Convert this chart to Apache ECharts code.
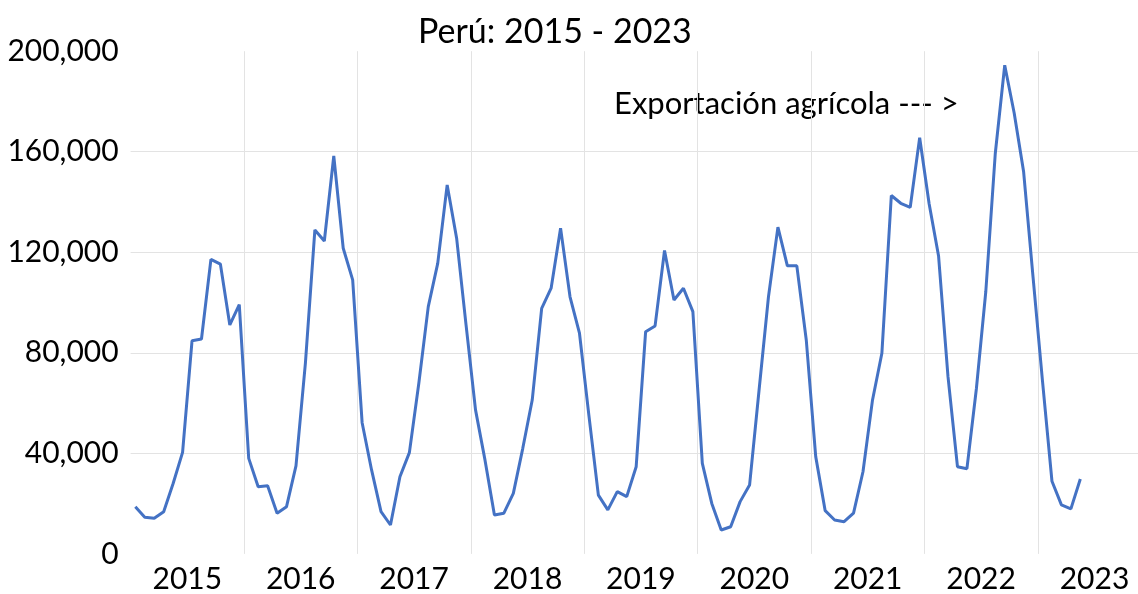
<!DOCTYPE html>
<html>
<head>
<meta charset="utf-8">
<title>Perú: 2015 - 2023</title>
<script src="https://cdn.jsdelivr.net/npm/echarts@6/dist/echarts.min.js"></script>
<style>
    html, body {
        margin: 0;
        padding: 0;
        background: #ffffff;
        overflow: hidden;
    }
    /* the 2023 slot runs a bit past the window edge, as in the original */
    #chart {
        width: 1152px;
        height: 594px;
    }
</style>
</head>
<body>
<div id="chart"></div>
<script>
// exportación agrícola mensual, ene 2015 - may 2023
const years = ['2015', '2016', '2017', '2018', '2019', '2020', '2021', '2022', '2023'];
const exp2015 = [18800, 14600, 14200, 16800, 28000, 40400, 84800, 85500, 117200, 115300, 91100, 99200];
const exp2016 = [38000, 26700, 27100, 16200, 18800, 35000, 76000, 128900, 124500, 158300, 121600, 109000];
const exp2017 = [52200, 33400, 16800, 11500, 30700, 40300, 67900, 98400, 115600, 146800, 125600, 91000];
const exp2018 = [57300, 37400, 15500, 16200, 24100, 42000, 61200, 97700, 105700, 129600, 102300, 87800];
const exp2019 = [55000, 23400, 17500, 24800, 22800, 34700, 88400, 90700, 120700, 101000, 105700, 96400];
const exp2020 = [36000, 20100, 9500, 10800, 20800, 27400, 65000, 102300, 130000, 114600, 114600, 85100];
const exp2021 = [38700, 17200, 13500, 12800, 16200, 32700, 61000, 79800, 142600, 139500, 137900, 165600];
const exp2022 = [139300, 118500, 70400, 34700, 33900, 65700, 104500, 159300, 194400, 175400, 152000, 110000];
const exp2023 = [68600, 28900, 19500, 17900, 29800];
const yTicks = [0, 40000, 80000, 120000, 160000, 200000];

const allMonths = [].concat(exp2015, exp2016, exp2017, exp2018, exp2019, exp2020, exp2021, exp2022, exp2023);
// month i sits in the middle of its slot on a 0..108 month scale
const seriesData = allMonths.map((v, i) => [i + 0.5, v]);

const FONT = 'Lato';
var myChart = echarts.init(document.getElementById('chart'), null, { renderer: 'canvas' });

myChart.setOption({
    animation: false,
    backgroundColor: '#ffffff',
    title: {
        text: 'Perú: 2015 - 2023',
        left: 413,
        top: 10,
        textStyle: {
            fontFamily: FONT,
            fontSize: 34,
            fontWeight: 'normal',
            color: '#000000'
        }
    },
    graphic: [{
        type: 'text',
        left: 614,
        top: 88,
        style: {
            text: 'Exportación agrícola --- >',
            fontFamily: FONT,
            fontSize: 31,
            fill: '#000000'
        }
    }],
    grid: {
        left: 130.6,
        right: 0.8,
        top: 51.2,
        bottom: 40.1,
        containLabel: false
    },
    xAxis: [
        {
            type: 'category',
            data: years,
            boundaryGap: true,
            axisLine: { show: false },
            axisTick: { show: false },
            axisLabel: {
                fontFamily: FONT,
                fontSize: 30,
                color: '#000000',
                margin: 10
            },
            splitLine: {
                show: true,
                showMinLine: false,
                lineStyle: { color: '#e3e3e3', width: 1 }
            }
        },
        {
            type: 'value',
            min: 0,
            max: 108,
            show: false
        }
    ],
    yAxis: {
        type: 'value',
        min: yTicks[0],
        max: yTicks[yTicks.length - 1],
        interval: 40000,
        axisLine: { show: false },
        axisTick: { show: false },
        axisLabel: {
            fontFamily: FONT,
            fontSize: 30,
            color: '#000000',
            margin: 12,
            formatter: function (v) {
                return v.toLocaleString('en-US');
            }
        },
        splitLine: {
            show: true,
            showMinLine: false,
            showMaxLine: false,
            lineStyle: { color: '#e3e3e3', width: 1 }
        }
    },
    series: [{
        name: 'Exportación agrícola',
        type: 'line',
        xAxisIndex: 1,
        data: seriesData,
        symbol: 'none',
        smooth: false,
        lineStyle: { color: '#4472c4', width: 3 }
    }]
});
</script>
</body>
</html>
